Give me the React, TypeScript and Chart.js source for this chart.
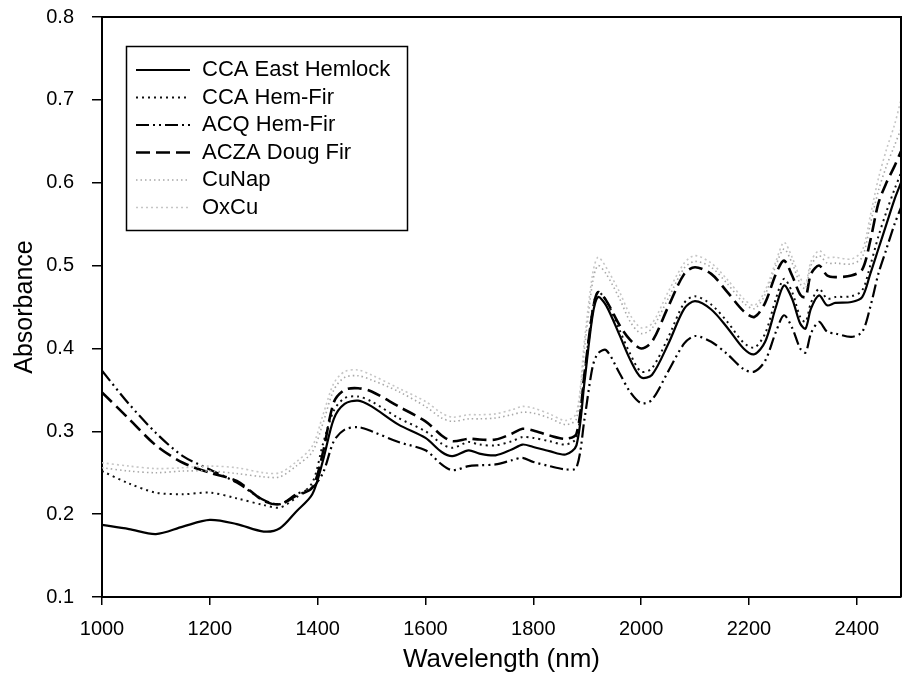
import React, { useEffect, useRef } from "react";
import { Chart, registerables } from "chart.js";

Chart.register(...registerables);

const wavelengths = [1000,1050,1100,1150,1200,1250,1300,1330,1360,1390,1410,1430,1450,1475,1500,1550,1600,1630,1650,1680,1700,1730,1760,1780,1800,1830,1860,1880,1895,1910,1920,1935,1960,1980,2000,2020,2050,2080,2100,2130,2160,2190,2210,2230,2250,2265,2280,2295,2305,2315,2330,2345,2360,2390,2410,2425,2440,2455,2470,2482];

const ccaEastHemlock = [0.187,0.182,0.176,0.185,0.193,0.188,0.179,0.183,0.203,0.224,0.265,0.315,0.333,0.337,0.330,0.308,0.292,0.275,0.270,0.277,0.273,0.271,0.278,0.284,0.281,0.276,0.272,0.283,0.360,0.440,0.462,0.452,0.416,0.386,0.365,0.368,0.405,0.448,0.457,0.447,0.425,0.400,0.393,0.408,0.450,0.476,0.460,0.430,0.424,0.448,0.464,0.452,0.455,0.456,0.462,0.490,0.520,0.550,0.580,0.600];

const ccaHemFir = [0.252,0.237,0.226,0.224,0.226,0.219,0.211,0.208,0.220,0.238,0.285,0.325,0.340,0.342,0.336,0.316,0.300,0.285,0.280,0.287,0.284,0.283,0.288,0.293,0.292,0.288,0.284,0.292,0.370,0.447,0.468,0.458,0.422,0.393,0.372,0.376,0.413,0.455,0.463,0.453,0.432,0.407,0.401,0.418,0.460,0.484,0.468,0.438,0.432,0.455,0.472,0.460,0.462,0.463,0.470,0.500,0.535,0.565,0.592,0.612];

const acqHemFir = [0.373,0.333,0.298,0.270,0.254,0.238,0.217,0.212,0.224,0.232,0.250,0.288,0.302,0.305,0.300,0.287,0.277,0.260,0.253,0.258,0.259,0.260,0.265,0.268,0.263,0.258,0.254,0.256,0.315,0.378,0.394,0.398,0.370,0.347,0.334,0.338,0.372,0.406,0.415,0.408,0.393,0.375,0.372,0.385,0.420,0.440,0.425,0.400,0.395,0.418,0.432,0.420,0.418,0.414,0.420,0.450,0.490,0.520,0.550,0.570];

const aczaDougFir = [0.347,0.315,0.283,0.262,0.250,0.240,0.216,0.212,0.222,0.232,0.275,0.335,0.350,0.352,0.348,0.330,0.312,0.295,0.288,0.291,0.290,0.290,0.297,0.303,0.301,0.295,0.291,0.297,0.370,0.445,0.468,0.458,0.428,0.410,0.400,0.408,0.450,0.490,0.498,0.490,0.468,0.445,0.438,0.455,0.490,0.506,0.488,0.465,0.462,0.490,0.500,0.488,0.486,0.488,0.495,0.530,0.575,0.600,0.620,0.638];

const cuNap = [0.256,0.252,0.250,0.252,0.252,0.249,0.245,0.245,0.258,0.275,0.310,0.350,0.365,0.367,0.362,0.348,0.330,0.316,0.312,0.315,0.315,0.316,0.320,0.323,0.322,0.316,0.308,0.315,0.400,0.480,0.500,0.490,0.460,0.432,0.418,0.424,0.460,0.497,0.505,0.498,0.478,0.455,0.448,0.465,0.500,0.520,0.503,0.478,0.472,0.500,0.512,0.503,0.503,0.502,0.510,0.550,0.590,0.620,0.645,0.665];

const oxCu = [0.262,0.258,0.255,0.256,0.258,0.256,0.250,0.250,0.263,0.282,0.320,0.358,0.372,0.374,0.368,0.352,0.336,0.322,0.317,0.320,0.320,0.321,0.326,0.330,0.328,0.321,0.313,0.322,0.410,0.490,0.510,0.498,0.468,0.440,0.425,0.430,0.468,0.503,0.512,0.503,0.483,0.460,0.452,0.470,0.505,0.528,0.510,0.485,0.478,0.505,0.518,0.510,0.510,0.508,0.518,0.560,0.605,0.640,0.670,0.700];

const seriesLabels = ["CCA East Hemlock", "CCA Hem-Fir", "ACQ Hem-Fir", "ACZA Doug Fir", "CuNap", "OxCu"];

const FONT = "Arial, 'Liberation Sans', sans-serif";

const toPoints = (vals: number[]) => vals.map((v, i) => ({ x: wavelengths[i], y: v }));

const frameLegendPlugin = {
  id: "frameLegend",
  afterDraw(chart: any) {
    const ctx = chart.ctx;
    const a = chart.chartArea;
    ctx.save();
    ctx.strokeStyle = "#000";
    ctx.lineWidth = 2;
    ctx.setLineDash([]);
    ctx.beginPath();
    ctx.moveTo(a.left, a.top);
    ctx.lineTo(a.right, a.top);
    ctx.lineTo(a.right, a.bottom);
    ctx.stroke();

    // legend box
    ctx.lineWidth = 1.5;
    ctx.strokeRect(126.5, 46.5, 281, 184);
    const rowY = [70, 97.5, 125, 152.5, 180, 207.5];
    chart.data.datasets.forEach((ds: any, i: number) => {
      const y = rowY[i];
      ctx.save();
      ctx.setLineDash(ds.borderDash || []);
      ctx.strokeStyle = ds.borderColor;
      ctx.lineWidth = ds.borderWidth;
      ctx.beginPath();
      ctx.moveTo(136, y);
      ctx.lineTo(190, y);
      ctx.stroke();
      ctx.restore();
      ctx.fillStyle = "#000";
      ctx.font = `22px ${FONT}`;
      ctx.textBaseline = "middle";
      ctx.textAlign = "left";
      ctx.fillText(ds.label, 202, y);
    });
    ctx.restore();
  },
};

export default function App() {
  const ref = useRef<HTMLCanvasElement | null>(null);

  useEffect(() => {
    if (!ref.current) return;
    const styles = [
      { color: "#000000", dash: [], width: 2.2 },
      { color: "#111111", dash: [2, 4], width: 2 },
      { color: "#000000", dash: [13, 4, 2, 4, 2, 4], width: 2.2 },
      { color: "#000000", dash: [14, 6], width: 2.6 },
      { color: "#a8a8a8", dash: [1.5, 3], width: 1.6 },
      { color: "#c6c6c6", dash: [2, 3], width: 1.6 },
    ];
    const values = [ccaEastHemlock, ccaHemFir, acqHemFir, aczaDougFir, cuNap, oxCu];
    const datasets = values.map((vals, i) => ({
      label: seriesLabels[i],
      data: toPoints(vals),
      borderColor: styles[i].color,
      borderDash: styles[i].dash,
      borderWidth: styles[i].width,
      pointRadius: 0,
      fill: false,
      tension: 0.3,
      order: 6 - i,
    }));

    const chart = new Chart(ref.current, {
      type: "line",
      data: { datasets },
      plugins: [frameLegendPlugin],
      options: {
        animation: false,
        responsive: false,
        devicePixelRatio: 1,
        layout: { padding: { top: 17, right: 2, bottom: 0, left: 0 } },
        plugins: { legend: { display: false }, tooltip: { enabled: false } },
        scales: {
          x: {
            type: "linear",
            min: 1000,
            max: 2482,
            afterFit: (s: any) => { s.height = 82; s.paddingLeft = 0; s.paddingRight = 0; },
            ticks: {
              stepSize: 200,
              includeBounds: false,
              autoSkip: false,
              maxRotation: 0,
              color: "#000",
              padding: 12,
              font: { family: FONT, size: 20 },
              callback: (v: any) => String(v),
            },
            grid: { drawOnChartArea: false, drawTicks: true, tickLength: 8, color: "#000", lineWidth: 1.5 },
            border: { display: true, color: "#000", width: 2 },
            title: {
              display: true,
              text: "Wavelength (nm)",
              color: "#000",
              font: { family: FONT, size: 26 },
              padding: { top: 0, bottom: 4 },
            },
          },
          y: {
            type: "linear",
            min: 0.1,
            max: 0.8,
            afterFit: (s: any) => { s.width = 102; s.paddingTop = 0; s.paddingBottom = 0; },
            ticks: {
              stepSize: 0.1,
              color: "#000",
              padding: 18,
              font: { family: FONT, size: 20 },
              callback: (v: any) => Number(v).toFixed(1),
            },
            grid: { drawOnChartArea: false, drawTicks: true, tickLength: 10, color: "#000", lineWidth: 1.5 },
            border: { display: true, color: "#000", width: 2 },
            title: {
              display: true,
              text: "Absorbance",
              color: "#000",
              font: { family: FONT, size: 25 },
              padding: { top: 10, bottom: 0 },
            },
          },
        },
      },
    } as any);
    return () => chart.destroy();
  }, []);

  return (
    <div style={{ position: "fixed", left: 0, top: 0, width: 903, height: 679, background: "#fff" }}>
      <canvas ref={ref} width={903} height={679} style={{ display: "block" }} />
    </div>
  );
}
